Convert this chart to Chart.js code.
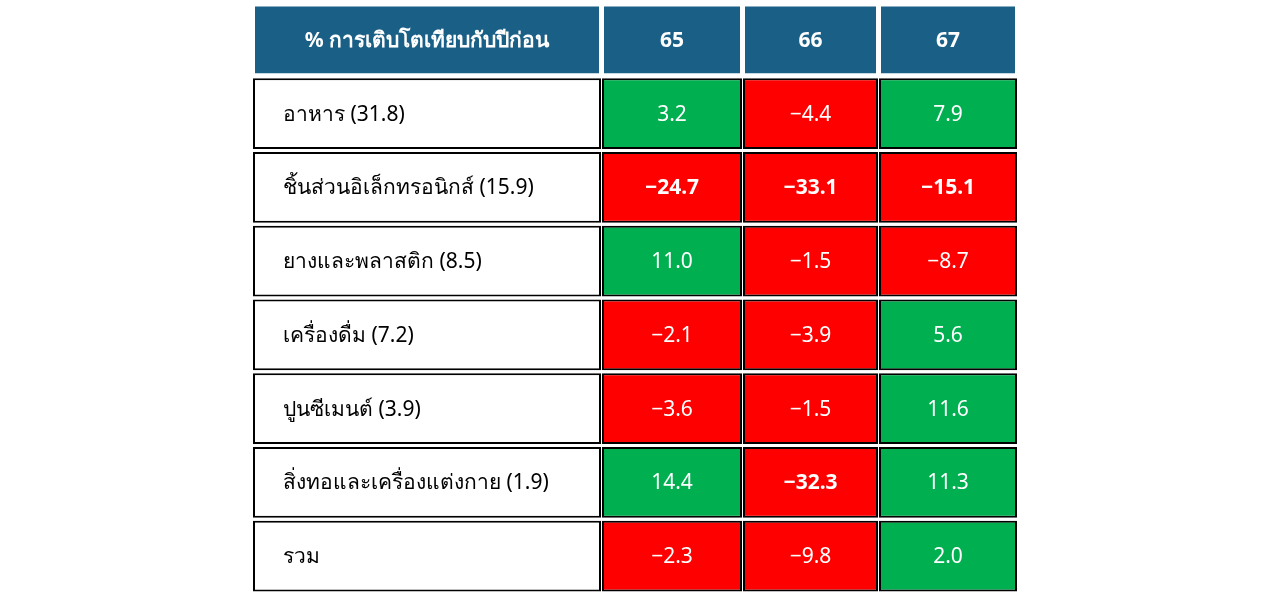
<!DOCTYPE html>
<html><head><meta charset="utf-8">
<script src="https://cdn.jsdelivr.net/npm/chart.js@4.4.0/dist/chart.umd.min.js"></script>
<style>html,body{margin:0;background:#fff}#w{width:1280px;height:597px}</style>
</head><body><div id="w"><canvas id="c"></canvas></div>
<script>
const headerLabel = '% การเติบโตเทียบกับปีก่อน';
const years = ['65','66','67'];
const categories = ['อาหาร (31.8)','ชิ้นส่วนอิเล็กทรอนิกส์ (15.9)','ยางและพลาสติก (8.5)','เครื่องดื่ม (7.2)','ปูนซีเมนต์ (3.9)','สิ่งทอและเครื่องแต่งกาย (1.9)','รวม'];
const v65 = [3.2, -24.7, 11.0, -2.1, -3.6, 14.4, -2.3];
const v66 = [-4.4, -33.1, -1.5, -3.9, -1.5, -32.3, -9.8];
const v67 = [7.9, -15.1, -8.7, 5.6, 11.6, 11.3, 2.0];

const colEdges = [[0,348],[349,489],[490,625],[626,764]];
const rows = ['H', ...categories];
const HEAD = '#1a5f86', GREEN = '#00b050', RED = '#ff0000';
const valueCols = [v65, v66, v67];

const datasets = colEdges.map((e, ci) => ({
  data: rows.map(() => [e[0], e[1]]),
  backgroundColor: rows.map((r, ri) => ri === 0 ? HEAD : ci === 0 ? '#ffffff' : (valueCols[ci-1][ri-1] >= 0 ? GREEN : RED)),
  borderColor: rows.map((r, ri) => ri === 0 ? '#ffffff' : '#000000'),
  borderWidth: 2, borderSkipped: false,
  barPercentage: 1, categoryPercentage: 0.96
}));

const textPlugin = {
  id: 'txt',
  afterDatasetsDraw(chart) {
    const ctx = chart.ctx;
    ctx.save();
    ctx.textBaseline = 'middle';
    chart.data.datasets.forEach((ds, ci) => {
      const meta = chart.getDatasetMeta(ci);
      meta.data.forEach((bar, ri) => {
        const left = Math.min(bar.x, bar.base), right = Math.max(bar.x, bar.base);
        let t, bold = false, color = '#fff', align = 'center', x = (left + right) / 2;
        if (ri === 0) { t = ci === 0 ? headerLabel : years[ci-1]; bold = true; }
        else if (ci === 0) { t = categories[ri-1]; color = '#000'; align = 'left'; x = left + 30; }
        else { const v = valueCols[ci-1][ri-1]; t = v.toFixed(1).replace('-', '−'); bold = v <= -10; }
        ctx.font = (bold ? 'bold ' : '') + '21px "Noto Sans", sans-serif';
        ctx.fillStyle = color; ctx.textAlign = align;
        ctx.fillText(t, x, bar.y + 1);
      });
    });
    ctx.restore();
  }
};

new Chart(document.getElementById('c'), {
  type: 'bar',
  data: { labels: rows, datasets },
  options: {
    indexAxis: 'y', responsive: true, maintainAspectRatio: false, animation: false,
    layout: { padding: { left: 253, right: 263, top: 3, bottom: 4 } },
    scales: {
      x: { display: false, min: 0, max: 764 },
      y: { display: false, stacked: true }
    },
    plugins: { legend: { display: false }, tooltip: { enabled: false } }
  },
  plugins: [textPlugin]
});
</script></body></html>
